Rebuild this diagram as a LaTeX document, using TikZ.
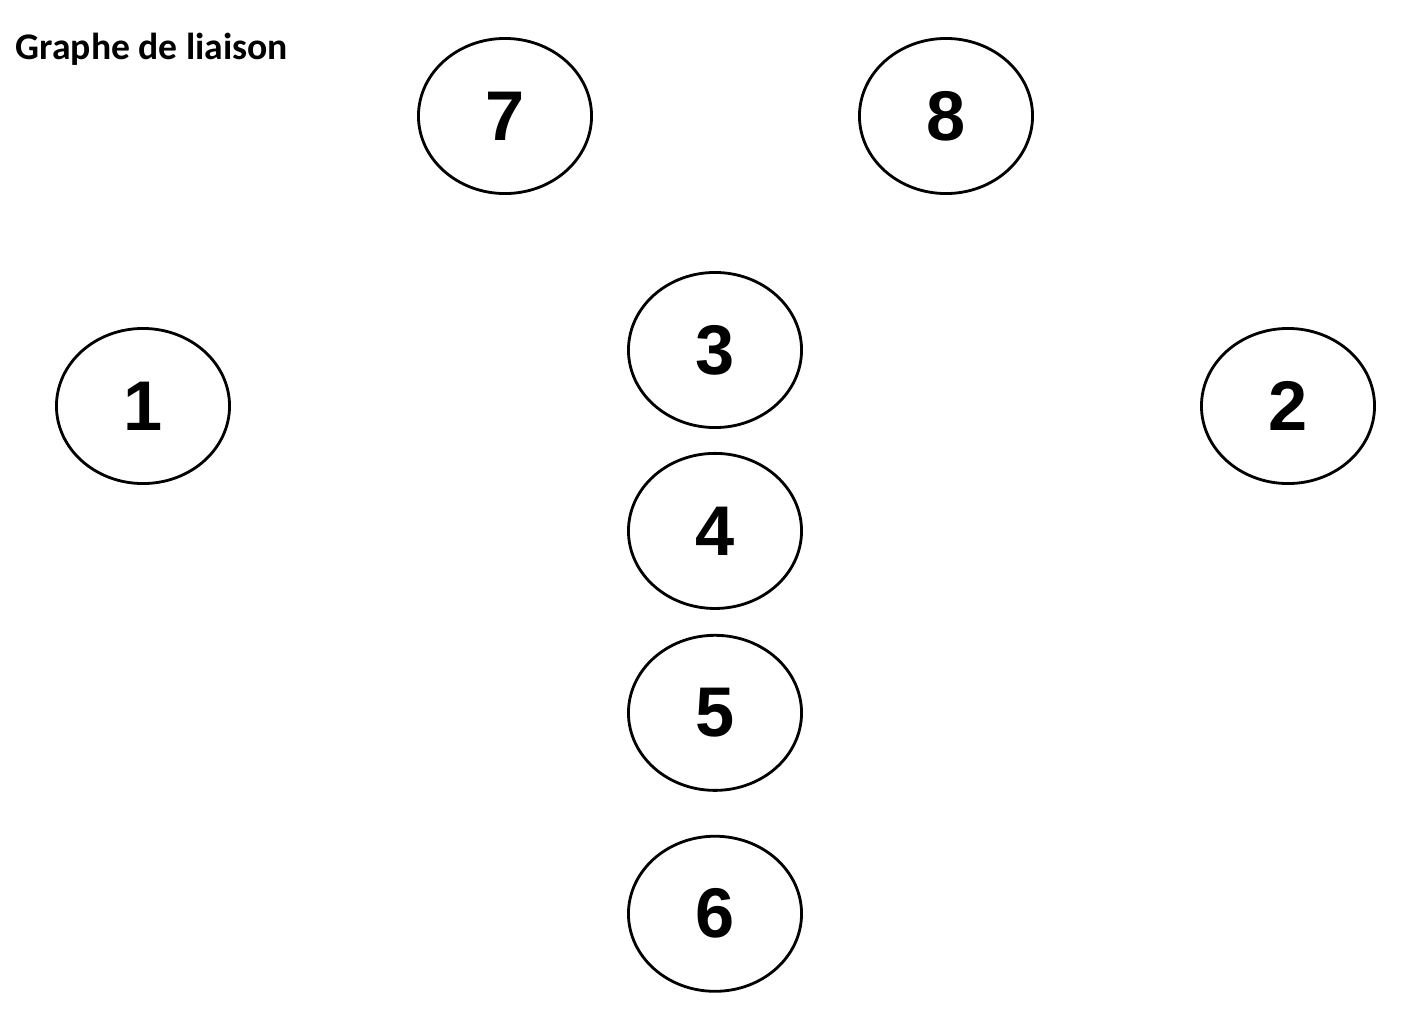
\documentclass[tikz,border=0pt]{standalone}
\usepackage{fontspec}
\setmainfont{Liberation Sans}
\newfontfamily\titlefont{Carlito}
\usetikzlibrary{positioning, shapes}

\begin{document}
\begin{tikzpicture}[
    x=0.01cm, y=-0.01cm,
    part/.style={ellipse, draw, line width=0.8pt, minimum width=1.73cm, minimum height=1.55cm, inner sep=0pt, font=\fontsize{20}{22}\selectfont\bfseries}
]

% Frame
\useasboundingbox (0,0) rectangle (1412,1030);

% Title
\node[anchor=west, inner sep=0pt, font=\titlefont\fontsize{10.7}{13}\selectfont\bfseries] (title) at (15,49) {Graphe de liaison};

% Parts
\node[part] (p7) at (505,116) {7};
\node[part] (p8) at (946,116) {8};
\node[part] (p1) at (143,406) {1};
\node[part] (p2) at (1288,406) {2};
\node[part] (p3) at (715,350) {3};
\node[part, below=0.23cm of p3] (p4) {4};
\node[part, below=0.24cm of p4] (p5) {5};
\node[part, below=0.43cm of p5] (p6) {6};

\end{tikzpicture}
\end{document}
